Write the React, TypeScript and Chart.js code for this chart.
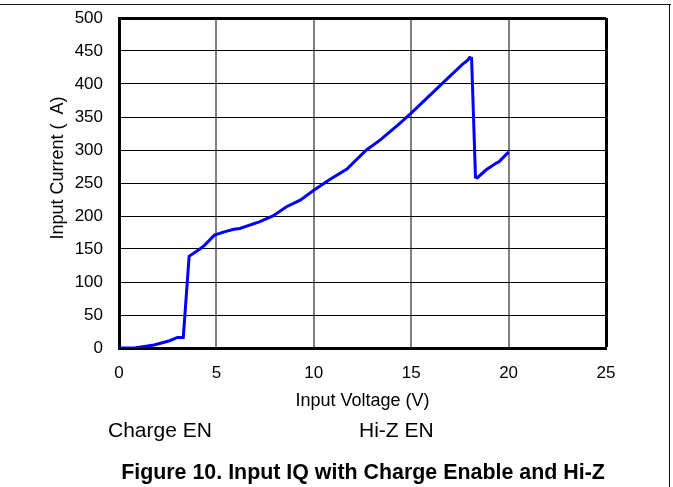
import { useEffect, useRef } from "react";
import { Chart, registerables } from "chart.js";

Chart.register(...registerables);

// Input voltage (V)
const voltage = [
  0, 0.8, 1.8, 2.6, 3.0, 3.3, 3.6, 3.8, 4.15, 4.4, 4.9, 5.4, 5.9, 6.2, 7.2,
  7.9, 8.6, 9.3, 10.0, 10.8, 11.7, 12.7, 13.4, 14.4, 15.0, 16.6, 17.6, 17.9,
  18.0, 18.1, 18.3, 18.4, 18.85, 19.35, 19.5, 20.0,
];
// Input current (µA)
const current = [
  0, 0, 4.5, 11, 16, 16, 139, 143, 150, 156, 171, 176, 180, 181, 191, 200,
  214, 224, 239, 255, 271, 300, 315, 340, 356, 401, 429, 436, 440, 439, 259,
  258, 270, 280, 282, 297,
];

const xTitle = "Input Voltage (V)";
const yTitle = "Input Current (  A)";
const labelLeft = "Charge EN";
const labelRight = "Hi-Z EN";
const caption = "Figure 10. Input IQ with Charge Enable and Hi-Z";

const FONT = "'Liberation Sans', Arial, Helvetica, sans-serif";

export default function App() {
  const canvasRef = useRef<HTMLCanvasElement | null>(null);

  useEffect(() => {
    const canvas = canvasRef.current;
    if (!canvas) return;
    const points = voltage.map((v, i) => ({ x: v, y: current[i] }));
    const chart = new Chart(canvas, {
      type: "line",
      data: {
        datasets: [
          {
            data: points,
            borderColor: "#0000ff",
            borderWidth: 3,
            pointRadius: 0,
            tension: 0,
            fill: false,
          },
        ],
      },
      options: {
        responsive: false,
        animation: false,
        devicePixelRatio: 1,
        layout: { padding: { left: 0, top: 18, right: 67, bottom: 69 } },
        plugins: {
          legend: { display: false },
          tooltip: { enabled: false },
        },
        scales: {
          x: {
            type: "linear",
            min: 0,
            max: 25,
            afterFit: (s: any) => {
              s.height = 70;
            },
            ticks: {
              stepSize: 5,
              padding: 15,
              color: "#000",
              font: { family: FONT, size: 17 },
            },
            grid: {
              drawTicks: false,
              color: (c: any) =>
                c.tick && c.tick.value === 0
                  ? "rgba(0,0,0,0)"
                  : c.tick && c.tick.value === 25
                  ? "#000"
                  : "#808080",
              lineWidth: (c: any) => (c.tick && c.tick.value === 25 ? 3 : 2),
            },
            border: { display: true, color: "#000", width: 3 },
            title: {
              display: true,
              text: xTitle,
              color: "#000",
              font: { family: FONT, size: 18 },
              padding: { top: 0, bottom: 6 },
            },
          },
          y: {
            type: "linear",
            min: 0,
            max: 500,
            afterFit: (s: any) => {
              s.width = 119;
            },
            ticks: {
              stepSize: 50,
              padding: 0,
              color: "#000",
              font: { family: FONT, size: 17 },
            },
            grid: {
              drawTicks: true,
              tickLength: 16,
              tickColor: "rgba(0,0,0,0)",
              color: (c: any) =>
                c.tick && c.tick.value === 0 ? "rgba(0,0,0,0)" : "#000",
              lineWidth: (c: any) => (c.tick && c.tick.value === 500 ? 3 : 1),
            },
            border: { display: true, color: "#000", width: 3 },
            title: { display: false },
          },
        },
      },
    });
    return () => chart.destroy();
  }, []);

  const textBase: any = {
    position: "absolute",
    fontFamily: FONT,
    color: "#000",
    whiteSpace: "pre",
    lineHeight: 1,
  };

  return (
    <div
      style={{
        position: "absolute",
        left: 0,
        top: 0,
        width: 673,
        height: 487,
        background: "#fff",
        overflow: "hidden",
      }}
    >
      <canvas
        ref={canvasRef}
        width={673}
        height={487}
        style={{ position: "absolute", left: 0, top: 0, width: 673, height: 487 }}
      />
      <div
        style={{
          position: "absolute",
          left: 0,
          top: 4,
          width: 671,
          height: 0,
          borderTop: "1.5px solid #111",
        }}
      />
      <div
        style={{
          position: "absolute",
          left: 669,
          top: 4,
          width: 0,
          height: 483,
          borderLeft: "1.5px solid #111",
        }}
      />
      <div
        style={{
          ...textBase,
          left: 57 - 100,
          top: 168 - 10,
          width: 200,
          height: 20,
          lineHeight: "20px",
          fontSize: 18,
          textAlign: "center",
          transform: "rotate(-90deg)",
          transformOrigin: "50% 50%",
        }}
      >
        {yTitle}
      </div>
      <div style={{ ...textBase, left: 108, top: 419, fontSize: 21 }}>
        {labelLeft}
      </div>
      <div style={{ ...textBase, left: 359, top: 419, fontSize: 21 }}>
        {labelRight}
      </div>
      <div
        style={{
          ...textBase,
          left: 0,
          width: 726,
          textAlign: "center",
          top: 462,
          fontSize: 21.4,
          fontWeight: "bold",
        }}
      >
        {caption}
      </div>
    </div>
  );
}
